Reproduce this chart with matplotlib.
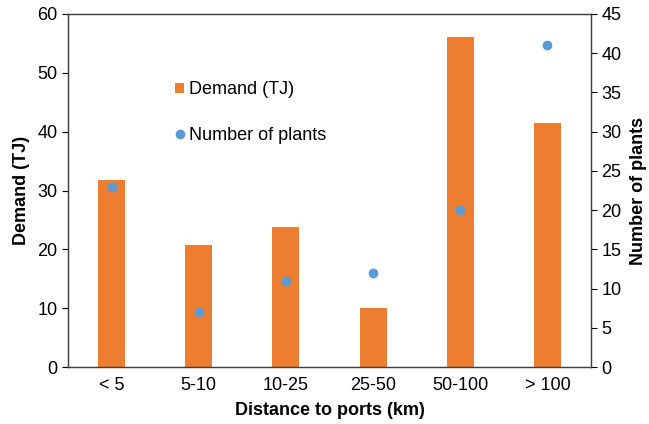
import numpy as np
import matplotlib
matplotlib.use("Agg")
import matplotlib.pyplot as plt
from matplotlib.lines import Line2D
from matplotlib.patches import Patch

plt.rcParams["font.family"] = ["Liberation Sans", "DejaVu Sans"]

categories = ["< 5", "5-10", "10-25", "25-50", "50-100", "> 100"]
demand_tj = [31.7, 20.8, 23.8, 10.1, 56.1, 41.4]
n_plants = [23, 7, 11, 12, 20, 41]

ORANGE = "#ED7D31"
BLUE = "#5B9BD5"
FS = 13

fig = plt.figure(figsize=(6.49, 4.24), dpi=100)
ax = fig.add_axes([68 / 649, 1 - 367 / 424, (591 - 68) / 649, (367 - 14) / 424])
x = np.arange(len(categories))

ax.bar(x, demand_tj, width=0.31, color=ORANGE, zorder=2)
ax.set_ylim(0, 60)
ax.set_yticks(range(0, 61, 10))
ax.set_xlim(-0.5, len(categories) - 0.5)
ax.set_xticks(x)
ax.set_xticklabels(categories)
ax.set_ylabel("Demand (TJ)", fontsize=FS, fontweight="bold", labelpad=5)
ax.set_xlabel("Distance to ports (km)", fontsize=FS, fontweight="bold", labelpad=6)
ax.tick_params(axis="both", labelsize=FS, length=4, direction="out")
ax.tick_params(axis="x", length=0, pad=7)

ax2 = ax.twinx()
ax2.scatter(x, n_plants, s=36, color=BLUE, zorder=3)
ax2.set_ylim(0, 45)
ax2.set_yticks(range(0, 46, 5))
ax2.set_ylabel("Number of plants", fontsize=FS, fontweight="bold", labelpad=6)
ax2.tick_params(axis="y", labelsize=FS, length=4, direction="out")

for a in (ax, ax2):
    for s in a.spines.values():
        s.set_color("#404040")
        s.set_linewidth(0.9)

handles = [
    Patch(facecolor=ORANGE, edgecolor="none"),
    Line2D([], [], marker="o", ls="none", color=BLUE, markersize=6),
]
ax.legend(handles, ["Demand (TJ)", "Number of plants"], frameon=False,
          loc="upper left", bbox_to_anchor=(0.205, 0.81), fontsize=FS,
          borderpad=0, borderaxespad=0,
          handlelength=0.5, handleheight=0.5, handletextpad=0.25,
          labelspacing=1.6)

fig.savefig("out.png", dpi=100)
